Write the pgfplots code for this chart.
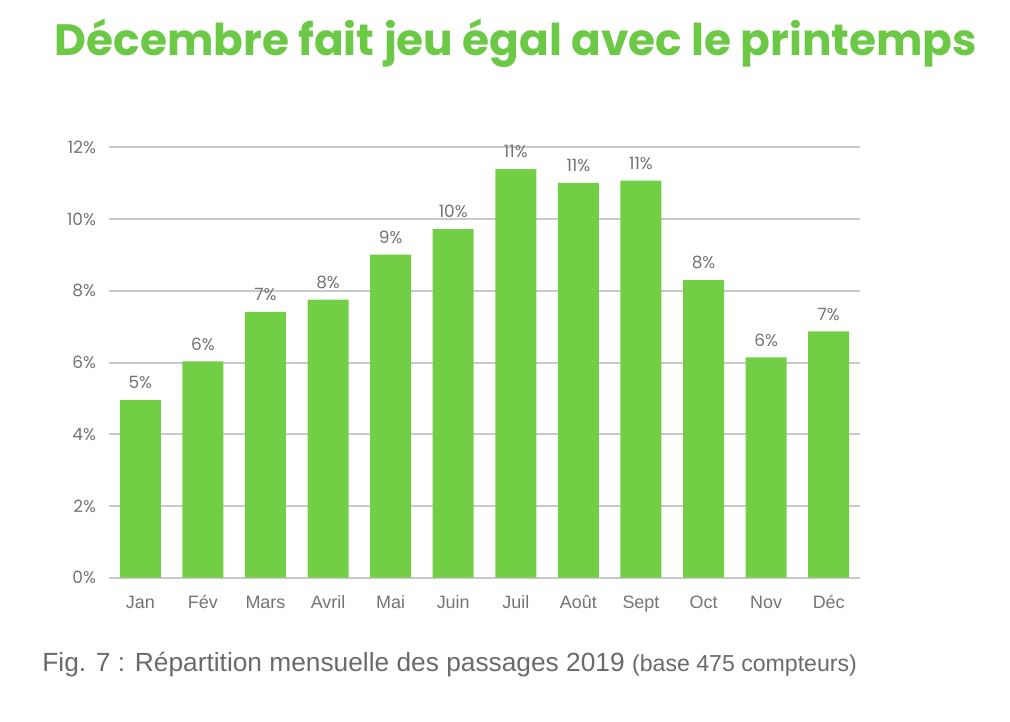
\documentclass[border=0pt]{standalone}
\usepackage{fontspec}
\setmainfont{Liberation Sans}
\newfontfamily\gothic{Poppins}
\usepackage{pgfplots}
\pgfplotsset{compat=1.18}
\definecolor{vert}{HTML}{72CF45}
\definecolor{titre}{HTML}{6CC946}
\definecolor{grille}{HTML}{C9C9C9}
\definecolor{texte}{HTML}{737373}
\definecolor{legende}{HTML}{6A6A6A}

\begin{document}
\begin{tikzpicture}[x=1bp,y=1bp]
  \useasboundingbox (-54.5,-71.65) rectangle (450.5,288.85);
  \begin{axis}[
      at={(0,0)}, anchor=south west,
      scale only axis,
      width=375.5bp, height=215.2bp,
      ybar, bar width=20.5bp,
      xmin=-0.5, xmax=11.5, ymin=0, ymax=12,
      xtick={0,...,11},
      xticklabels={Jan,Fév,Mars,Avril,Mai,Juin,Juil,Août,Sept,Oct,Nov,Déc},
      ytick={0,2,...,12},
      yticklabel={\pgfmathprintnumber{\tick}\%},
      /pgf/number format/assume math mode=true,
      ymajorgrids,
      grid style={grille, line width=1bp},
      axis line style={draw=none},
      major tick length=0pt,
      tick label style={font=\fontsize{9}{10}\selectfont, text=texte},
      yticklabel style={font=\gothic\fontsize{8.5}{10}\selectfont, xshift=-3bp},
      xticklabel style={text height=7bp, text depth=2bp, yshift=-5bp},
      nodes near coords={\pgfmathprintnumber[fixed,precision=0]{\pgfplotspointmeta}\%},
      nodes near coords style={font=\gothic\fontsize{8.5}{10}\selectfont, text=texte, yshift=2bp},
      clip=false,
    ]
    \addplot[fill=vert, draw=none] coordinates {
      (0,4.95) (1,6.03) (2,7.41) (3,7.75) (4,9.01) (5,9.72)
      (6,11.39) (7,11.01) (8,11.07) (9,8.30) (10,6.14) (11,6.87)
    };
  \end{axis}
  \node[anchor=base, inner sep=0pt, text=titre, font=\gothic\fontsize{22}{26}\selectfont\bfseries]
    at (203.5,261) {Décembre fait jeu égal avec le printemps};
  \node[anchor=base west, inner sep=0pt, text=legende, font=\fontsize{13.2}{15}\selectfont]
    at (-33.5,-46.65) {Fig. 7 : Répartition mensuelle des passages 2019 {\fontsize{11.6}{13}\selectfont(base 475 compteurs)}};
\end{tikzpicture}
\end{document}
